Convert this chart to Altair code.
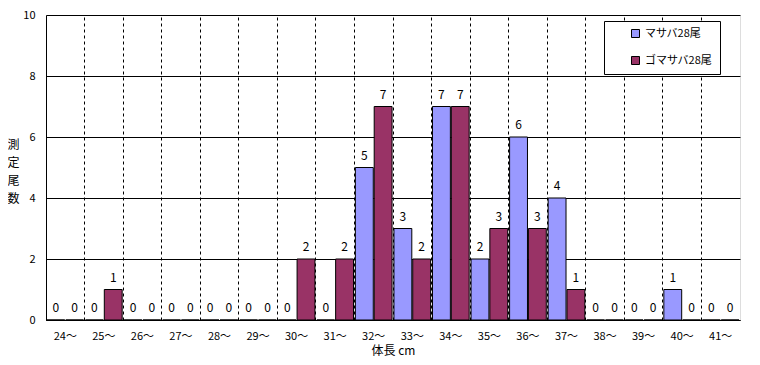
import altair as alt
import pandas as pd

categories = ["24～", "25～", "26～", "27～", "28～", "29～", "30～", "31～", "32～",
              "33～", "34～", "35～", "36～", "37～", "38～", "39～", "40～", "41～"]
series_names = ["マサバ28尾", "ゴマサバ28尾"]
masaba = [0, 0, 0, 0, 0, 0, 0, 0, 5, 3, 7, 2, 6, 4, 0, 0, 1, 0]
gomasaba = [0, 1, 0, 0, 0, 0, 2, 2, 7, 2, 7, 3, 3, 1, 0, 0, 0, 0]
colors = ["#9999FF", "#993366"]

rows = []
for i, c in enumerate(categories):
    rows.append({"cat": c, "series": series_names[0], "value": masaba[i]})
    rows.append({"cat": c, "series": series_names[1], "value": gomasaba[i]})
df = pd.DataFrame(rows)

FONT = "Noto Sans CJK JP"

x_enc = alt.X("cat:N", sort=categories,
              scale=alt.Scale(paddingInner=0, paddingOuter=0),
              axis=alt.Axis(title="体長 cm", labelAngle=0, ticks=False, grid=False,
                            labelPadding=10, titlePadding=4, domainColor="black",
                            labelColor="black", titleColor="black",
                            labelFontSize=11, titleFontSize=12, titleFontWeight="normal",
                            labelFont=FONT, titleFont=FONT))
xoff = alt.XOffset("series:N", sort=series_names,
                   scale=alt.Scale(paddingInner=0.05, paddingOuter=0.05))
y_enc = alt.Y("value:Q", scale=alt.Scale(domain=[0, 10], nice=False),
              axis=alt.Axis(values=[0, 2, 4, 6, 8, 10], ticks=False, labelPadding=11,
                            grid=True, gridColor="black", gridWidth=1, gridOpacity=1,
                            domainColor="black", labelColor="black",
                            labelFontSize=11, labelFont=FONT,
                            title=["測", "定", "尾", "数"], titleAngle=0,
                            titleAlign="center", titleBaseline="top",
                            titleX=-33, titleY=124, titleLineHeight=18,
                            titleFontSize=12, titleFontWeight="normal",
                            titleFont=FONT, titleColor="black"))

bars = alt.Chart(df).mark_bar(stroke="black", strokeWidth=1, strokeOpacity=1, opacity=1).encode(
    x=x_enc,
    xOffset=xoff,
    y=y_enc,
    color=alt.Color("series:N", sort=series_names,
                    scale=alt.Scale(domain=series_names, range=colors),
                    legend=alt.Legend(title=None, orient="none", legendX=558, legendY=6,
                                      fillColor="white", strokeColor="black",
                                      padding=7, symbolType="square", symbolSize=64,
                                      symbolStrokeColor="black", symbolStrokeWidth=1,
                                      symbolOffset=19, rowPadding=14,
                                      labelFontSize=11, labelFont=FONT, labelColor="black")),
)

labels = alt.Chart(df).mark_text(baseline="bottom", dy=-5, fontSize=12, font=FONT,
                                 color="black").encode(
    x=alt.X("cat:N", sort=categories, axis=None),
    xOffset=xoff,
    y=alt.Y("value:Q"),
    text=alt.Text("value:Q"),
)

grid_v = alt.Chart(df).mark_bar(opacity=0).encode(
    x=alt.X("cat:N", sort=categories,
            axis=alt.Axis(orient="top", bandPosition=0, grid=True, gridDash=[3, 3],
                          gridColor="black", gridWidth=1, gridOpacity=1,
                          labels=False, ticks=False, domain=False, title=None)),
    y=alt.Y("value:Q"),
)

chart = alt.layer(grid_v, bars, labels).resolve_axis(x="independent").properties(
    width=694, height=305,
    autosize=alt.AutoSizeParams(type="none"),
    padding={"left": 38, "top": 7, "right": 12, "bottom": 40},
).configure_view(stroke="black", strokeWidth=1).configure(background="white")

chart.save("out.html", embed_options={"renderer": "svg", "actions": False})
